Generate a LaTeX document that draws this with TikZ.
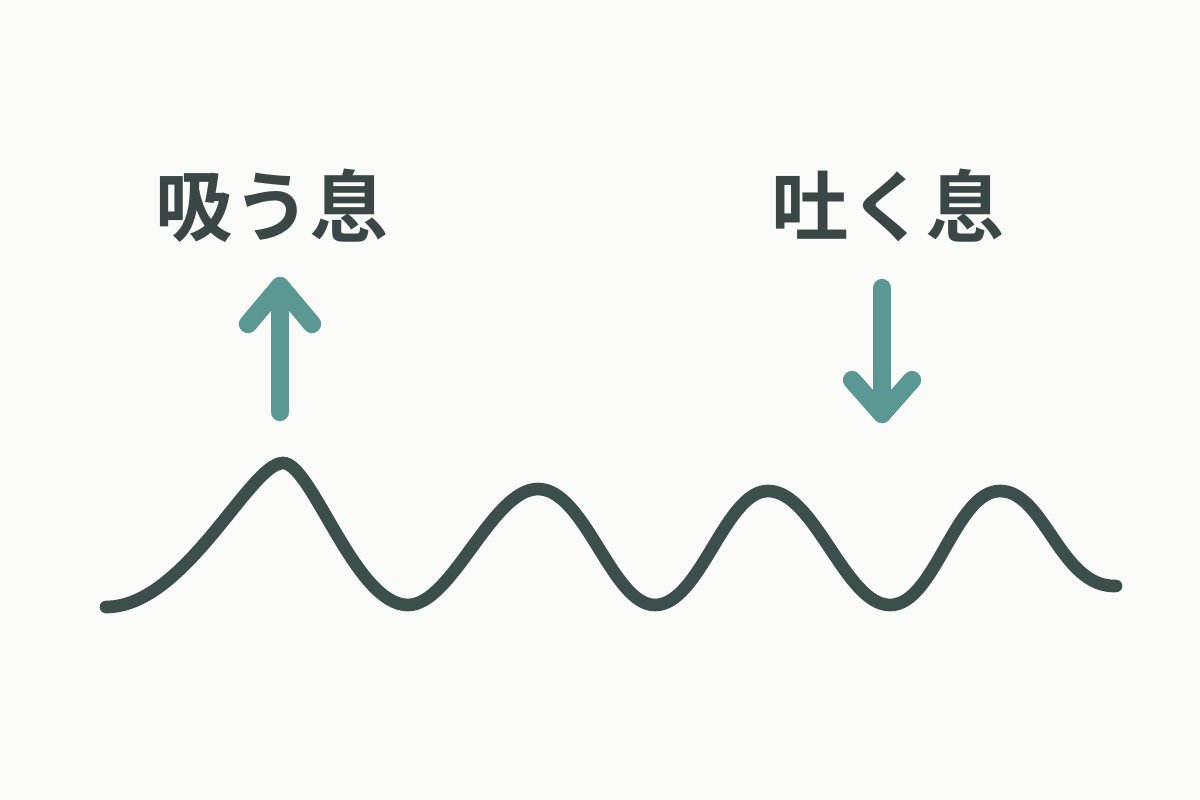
\documentclass[tikz,border=0pt]{standalone}
\usepackage{fontspec}
\newfontfamily\jpfont{Noto Sans CJK JP Bold}
\definecolor{bgc}{HTML}{FAFAF8}
\definecolor{wavec}{HTML}{3D4F4D}
\definecolor{arrowc}{HTML}{5B9894}
\definecolor{textc}{HTML}{3A4746}
\tikzset{
  lbl/.style={font=\jpfont\fontsize{22}{26}\selectfont, text=textc, inner sep=0pt},
  arrowline/.style={draw=arrowc, line width=5.2pt, line cap=round, line join=round},
  waveline/.style={draw=wavec, line width=3.6pt, line cap=round, line join=round}
}
\begin{document}
\begin{tikzpicture}[x=0.01cm,y=-0.01cm]
\fill[bgc] (0,0) rectangle (1200,800);
\useasboundingbox (0,0) rectangle (1200,800);
\node[lbl] (inhale) at (272,206) {吸う息};
\node[lbl] (exhale) at (888,206) {吐く息};
% up arrow
\coordinate (upbase) at (280,412);
\coordinate (uptip) at (280,286);
\coordinate (upl) at (248,324);
\coordinate (upr) at (312,324);
\draw[arrowline] (upbase) -- (uptip);
\draw[arrowline] (upl) -- (uptip) -- (upr);
% down arrow
\coordinate (dnbase) at (882,288);
\coordinate (dntip) at (882,414);
\coordinate (dnl) at (852,380);
\coordinate (dnr) at (912,380);
\draw[arrowline] (dnbase) -- (dntip);
\draw[arrowline] (dnl) -- (dntip) -- (dnr);
% wave
\coordinate (w0) at (106,607);
\coordinate (p1) at (283,463);
\coordinate (t1) at (408,605);
\coordinate (p2) at (538,489);
\coordinate (t2) at (655,605);
\coordinate (p3) at (768,491);
\coordinate (t3) at (890,605);
\coordinate (p4) at (1000,491);
\coordinate (we) at (1116,586);
\draw[waveline] (w0) .. controls (185,607) and (250,463) .. (p1)
  .. controls (312,463) and (355,605) .. (t1)
  .. controls (452,605) and (492,489) .. (p2)
  .. controls (585,489) and (612,605) .. (t2)
  .. controls (700,605) and (725,491) .. (p3)
  .. controls (815,491) and (845,605) .. (t3)
  .. controls (935,605) and (955,491) .. (p4)
  .. controls (1045,491) and (1060,588) .. (we);
\end{tikzpicture}
\end{document}
